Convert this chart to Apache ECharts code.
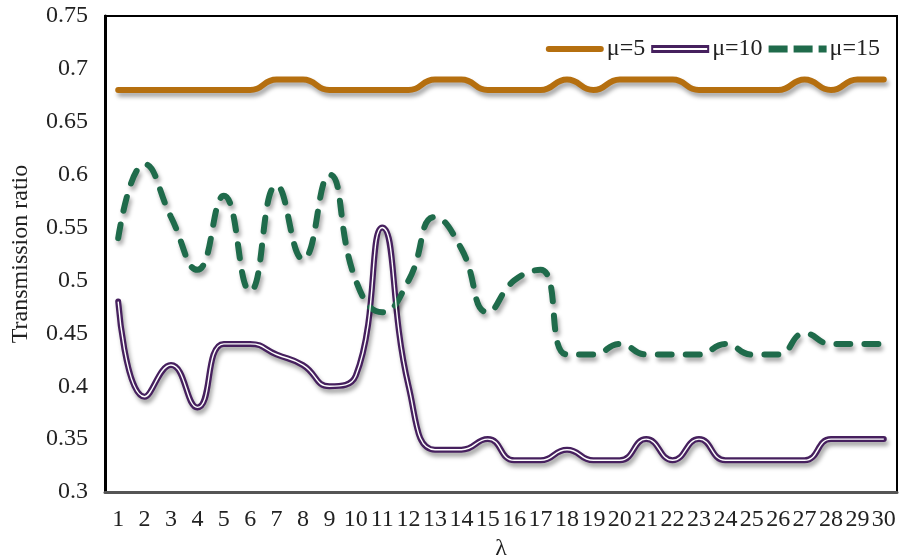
<!DOCTYPE html>
<html>
<head>
<meta charset="utf-8">
<script src="https://cdn.jsdelivr.net/npm/echarts@6/dist/echarts.min.js"></script>
<style>
  html, body { margin: 0; padding: 0; background: #fff; }
  #chart { width: 901px; height: 558px; }
</style>
</head>
<body>
<div id="chart"></div>
<script>
// lambda values on the x axis
const lambdas = ['1','2','3','4','5','6','7','8','9','10','11','12','13','14','15',
  '16','17','18','19','20','21','22','23','24','25','26','27','28','29','30'];

// transmission ratio for each mu
const mu5 = [0.68,0.68,0.68,0.68,0.68,0.68,0.69,0.69,0.68,0.68,0.68,0.68,0.69,0.69,0.68,
  0.68,0.68,0.69,0.68,0.69,0.69,0.69,0.68,0.68,0.68,0.68,0.69,0.68,0.69,0.69];
const mu10 = [0.48,0.39,0.42,0.38,0.44,0.44,0.43,0.42,0.40,0.41,0.55,0.40,0.34,0.34,0.35,
  0.33,0.33,0.34,0.33,0.33,0.35,0.33,0.35,0.33,0.33,0.33,0.33,0.35,0.35,0.35];
const mu15 = [0.54,0.61,0.56,0.51,0.58,0.49,0.59,0.52,0.60,0.50,0.47,0.50,0.56,0.53,0.47,
  0.50,0.51,0.43,0.43,0.44,0.43,0.43,0.43,0.44,0.43,0.43,0.45,0.44,0.44,0.44];

const yTicks = { min: 0.3, max: 0.75, step: 0.05 };

const font = 'Liberation Serif';
const shadow = {
  shadowColor: 'rgba(0,0,0,0.35)',
  shadowBlur: 4,
  shadowOffsetX: 2,
  shadowOffsetY: 4
};

const myChart = echarts.init(document.getElementById('chart'));

const option = {
  animation: false,
  grid: {
    left: 105,
    right: 4,
    top: 16,
    bottom: 66,
    outerBoundsMode: 'none',
    containLabel: false,
    show: true,
    borderColor: '#000',
    borderWidth: 2
  },
  legend: {
    top: 32,
    right: 16,
    itemWidth: 58,
    itemHeight: 8,
    itemGap: 6,
    textStyle: { fontFamily: font, fontSize: 24, color: '#222', padding: [0, 0, 0, -2] },
    data: [
      { name: 'μ=5', icon: 'path://M3,0 H55 A3,3 0 0 1 55,6 H3 A3,3 0 0 1 3,0 Z' },
      { name: 'μ=10', icon: 'path://M0,0 H58 V8 H0 Z M2,3 V5 H56 V3 Z' },
      { name: 'μ=15', icon: 'path://M0,0 H19 V7 H0 Z M25,0 H44 V7 H25 Z M50,0 H58 V7 H50 Z' }
    ]
  },
  xAxis: {
    type: 'category',
    data: lambdas,
    boundaryGap: true,
    name: 'λ',
    nameLocation: 'middle',
    nameGap: 40,
    nameTextStyle: { fontFamily: font, fontSize: 24, color: '#222' },
    axisLine: { lineStyle: { color: '#555', width: 3 } },
    axisTick: { show: false },
    axisLabel: { fontFamily: font, fontSize: 24, color: '#222', margin: 16, interval: 0 },
    splitLine: { show: false }
  },
  yAxis: {
    type: 'value',
    min: yTicks.min,
    max: yTicks.max,
    interval: yTicks.step,
    name: 'Transmission ratio',
    nameLocation: 'middle',
    nameGap: 72,
    nameTextStyle: { fontFamily: font, fontSize: 24, color: '#222' },
    axisLine: { show: true, lineStyle: { color: '#000', width: 3 } },
    axisTick: { show: false },
    axisLabel: {
      fontFamily: font, fontSize: 24, color: '#222', margin: 17,
      formatter: v => String(Math.round(v * 100) / 100)
    },
    splitLine: { show: false }
  },
  series: [
    {
      name: 'μ=5',
      type: 'line',
      data: mu5,
      smooth: 0.5,
      symbol: 'none',
      itemStyle: { color: '#b56f0f' },
      lineStyle: Object.assign({ color: '#b56f0f', width: 6, cap: 'round' }, shadow),
      z: 3
    },
    {
      name: 'μ=10',
      type: 'line',
      data: mu10,
      smooth: 0.5,
      symbol: 'none',
      itemStyle: { color: '#46205e' },
      lineStyle: Object.assign({ color: '#46205e', width: 6, cap: 'round' }, shadow),
      z: 3
    },
    {
      name: 'μ=10 inner',
      type: 'line',
      data: mu10,
      smooth: 0.5,
      symbol: 'none',
      silent: true,
      lineStyle: { color: '#fff', width: 1.4 },
      z: 4
    },
    {
      name: 'μ=15',
      type: 'line',
      data: mu15,
      smooth: 0.5,
      symbol: 'none',
      itemStyle: { color: '#1f6b4b' },
      lineStyle: Object.assign({ color: '#1f6b4b', width: 6, type: [14, 14], cap: 'round' }, shadow),
      z: 3
    }
  ]
};

myChart.setOption(option);
</script>
</body>
</html>
